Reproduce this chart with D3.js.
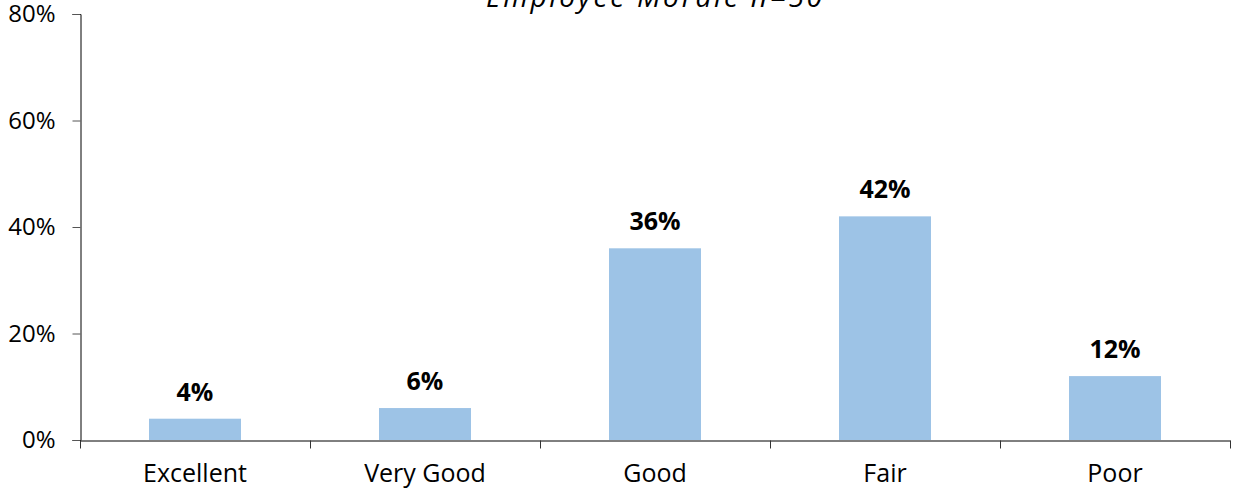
<!DOCTYPE html>
<html>
<head>
<meta charset="utf-8">
<script src="https://cdn.jsdelivr.net/npm/d3@7"></script>
<style>
  html, body { margin: 0; padding: 0; background: #fff; }
  svg { display: block; }
  text { font-family: "Open Sans", "Noto Sans", sans-serif; }
</style>
</head>
<body>
<svg id="chart" width="1234" height="489"></svg>
<script>
const categories = ["Excellent", "Very Good", "Good", "Fair", "Poor"];
const values = [4, 6, 36, 42, 12];
const yTicks = [0, 20, 40, 60, 80];
const titleText = "Employee Morale n=50";

const svg = d3.select("#chart");
const margin = { left: 80, right: 4, top: 14, bottom: 49 };
const W = 1234, H = 489;

const x = d3.scaleBand().domain(categories).range([margin.left, W - margin.right]).paddingInner(0.6).paddingOuter(0.3);
const y = d3.scaleLinear().domain([0, 80]).range([H - margin.bottom, margin.top]);

// bars
svg.append("g").selectAll("rect").data(values).join("rect")
  .attr("x", (d, i) => x(categories[i]))
  .attr("y", d => y(d))
  .attr("width", x.bandwidth())
  .attr("height", d => y(0) - y(d))
  .attr("fill", "#9DC3E6");

// y axis
const yAxis = svg.append("g").attr("transform", `translate(${margin.left + 0.5},0)`)
  .call(d3.axisLeft(y).tickValues(yTicks).tickFormat(d => d + "%").tickSize(8).tickPadding(17));
yAxis.select(".domain").attr("stroke", "#000");
yAxis.selectAll(".tick line").attr("stroke", "#555");
yAxis.selectAll(".tick text").attr("font-size", 24).attr("fill", "#000")
  .attr("font-family", "'Open Sans', sans-serif");

// x axis
const xEdges = d3.range(categories.length + 1).map(i => margin.left + i * (W - margin.right - margin.left) / categories.length);
const xAxis = svg.append("g").attr("transform", `translate(0,${y(0) + 0.5})`)
  .call(d3.axisBottom(x).tickSize(0).tickPadding(24));
xAxis.select(".domain").attr("stroke", "#000");
xAxis.selectAll(".tick text").attr("font-size", 25).attr("fill", "#000")
  .attr("font-family", "'Open Sans', sans-serif");
xAxis.selectAll(".edge").data(xEdges).join("line").attr("class", "edge")
  .attr("x1", d => Math.round(d) + 0.5).attr("x2", d => Math.round(d) + 0.5)
  .attr("y1", 0).attr("y2", 8).attr("stroke", "#333");

// value labels
svg.append("g").selectAll("text").data(values).join("text")
  .attr("x", (d, i) => x(categories[i]) + x.bandwidth() / 2)
  .attr("y", d => y(d) - 18)
  .attr("text-anchor", "middle")
  .attr("font-size", 25).attr("font-weight", "bold").attr("fill", "#000")
  .text(d => d + "%");

// title
svg.append("text").attr("x", 486).attr("y", 7)
  .attr("font-size", 28).attr("font-style", "italic")
  .attr("textLength", 336).attr("lengthAdjust", "spacing")
  .attr("fill", "#000").text(titleText);
</script>
</body>
</html>
